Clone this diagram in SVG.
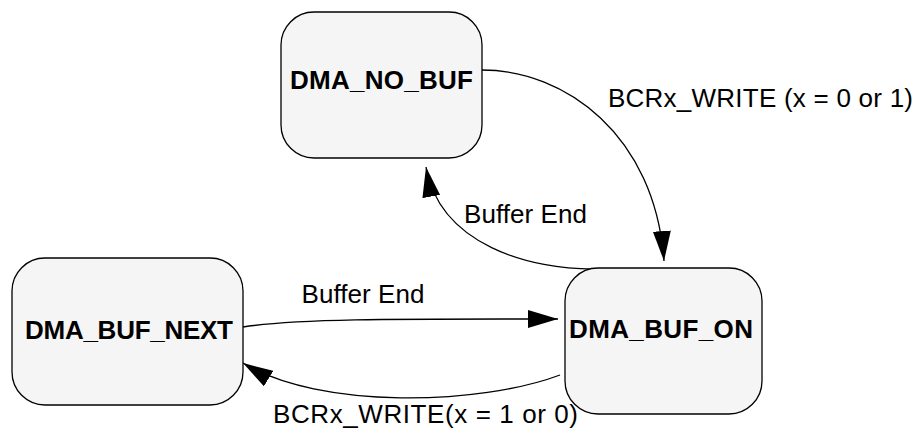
<svg xmlns="http://www.w3.org/2000/svg" width="915" height="432" viewBox="0 0 915 432">
  <style>
    .node rect { fill: #f5f5f5; stroke: #000; stroke-width: 1.3; }
    .node text { font-family: "Liberation Sans", Arial, sans-serif; font-weight: bold; font-size: 26px; fill: #000; text-anchor: middle; }
    .edge path { fill: none; stroke: #000; stroke-width: 1.3; }
    .lbl { font-family: "Liberation Sans", Arial, sans-serif; font-size: 26px; fill: #000; }
  </style>
  <defs>
    <marker id="arr" viewBox="0 0 30 18" refX="30" refY="9" markerWidth="30" markerHeight="18" markerUnits="userSpaceOnUse" orient="auto">
      <path d="M0,0 L30,9 L0,18 z" fill="#000"/>
    </marker>
  </defs>
  <rect width="915" height="432" fill="#fff"/>
  <g id="connectors" class="edge">
    <path d="M482,70 C565,70 655,135 664,261" marker-end="url(#arr)"/>
    <path d="M597,269 C530,270 440,245 426,167" marker-end="url(#arr)"/>
    <path d="M243,327 C300,318 420,319 558,319" marker-end="url(#arr)"/>
    <path d="M560,375 C480,405 320,410 243,363" marker-end="url(#arr)"/>
  </g>
  <g id="node-dma-no-buf" class="node">
    <rect x="281" y="12" width="201" height="146" rx="33" ry="33"/>
    <text x="381.5" y="89" textLength="183">DMA_NO_BUF</text>
  </g>
  <g id="node-dma-buf-next" class="node">
    <rect x="12" y="258" width="231" height="147" rx="33" ry="33"/>
    <text x="129" y="339" textLength="208">DMA_BUF_NEXT</text>
  </g>
  <g id="node-dma-buf-on" class="node">
    <rect x="565" y="268" width="197" height="146" rx="33" ry="33"/>
    <text x="661" y="338" textLength="184">DMA_BUF_ON</text>
  </g>
  <g id="labels">
    <text class="lbl" x="608" y="106.5" textLength="305">BCRx_WRITE (x = 0 or 1)</text>
    <text class="lbl" x="464" y="222.5" textLength="123">Buffer End</text>
    <text class="lbl" x="301.5" y="303.3" textLength="123">Buffer End</text>
    <text class="lbl" x="273" y="423" textLength="305">BCRx_WRITE(x = 1 or 0)</text>
  </g>
</svg>
